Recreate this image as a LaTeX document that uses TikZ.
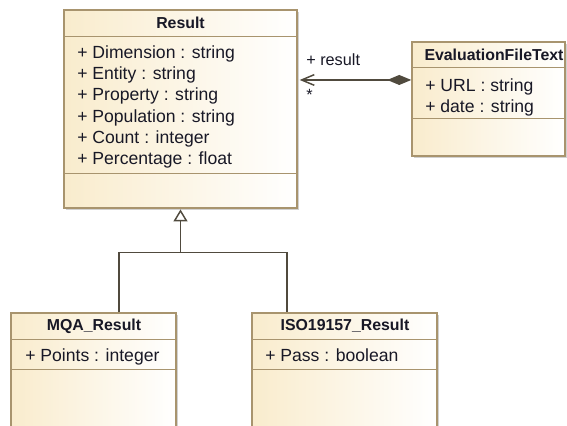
\documentclass[tikz,border=0pt]{standalone}
\usepackage{fontspec}
\setmainfont{Liberation Sans}
\usetikzlibrary{arrows.meta,fit,shadows}

\definecolor{umlfill}{RGB}{249,236,205}
\definecolor{umledge}{RGB}{168,148,110}
\definecolor{umlline}{RGB}{80,74,62}
\definecolor{umltext}{RGB}{24,24,38}

\tikzset{
  classbox/.style={rectangle, inner sep=0pt, draw=umledge, line width=1.1pt,
    left color=umlfill, right color=white,
    drop shadow={shadow xshift=1.5pt, shadow yshift=-1.5pt, fill=black, opacity=0.18}},
  sepline/.style={draw=umledge, line width=1.1pt},
  title/.style={font=\fontsize{11.9}{14}\selectfont\bfseries, text=umltext, inner sep=0pt, anchor=base},
  attr/.style={font=\fontsize{13.2}{16}\selectfont, text=umltext, inner sep=0pt, anchor=base west},
  rolelabel/.style={font=\fontsize{12.2}{14}\selectfont, text=umltext, inner sep=0pt, anchor=base west},
  conn/.style={draw=umlline, line width=1.1pt}
}

\begin{document}
\begin{tikzpicture}[x=0.75pt,y=-0.75pt]
  \useasboundingbox (0,0) rectangle (567,425);
  \fill[white] (0,0) rectangle (567,425);
  \clip (0,0) rectangle (567,425);

  % class boxes
  \node[classbox, fit={(64,10) (297,208)}] (Result) {};
  \node[classbox, fit={(412,42) (565,156)}] (EFT) {};
  \node[classbox, fit={(11,313) (176,440)}] (MQA) {};
  \node[classbox, fit={(252,313) (437,440)}] (ISO) {};

  % compartment separators
  \draw[sepline] ([shift={(0,27)}]Result.north west) -- ([shift={(0,27)}]Result.north east);
  \draw[sepline] ([shift={(0,164)}]Result.north west) -- ([shift={(0,164)}]Result.north east);
  \draw[sepline] ([shift={(0,26)}]EFT.north west) -- ([shift={(0,26)}]EFT.north east);
  \draw[sepline] ([shift={(0,77)}]EFT.north west) -- ([shift={(0,77)}]EFT.north east);
  \draw[sepline] ([shift={(0,27)}]MQA.north west) -- ([shift={(0,27)}]MQA.north east);
  \draw[sepline] ([shift={(0,57)}]MQA.north west) -- ([shift={(0,57)}]MQA.north east);
  \draw[sepline] ([shift={(0,27)}]ISO.north west) -- ([shift={(0,27)}]ISO.north east);
  \draw[sepline] ([shift={(0,57)}]ISO.north west) -- ([shift={(0,57)}]ISO.north east);

  % Result
  \node[title] (tResult) at (180.5,28.3) {Result};
  \node[attr] (r1) at (77,58.3) {+ Dimension : string};
  \node[attr] (r2) at (77,79.6) {+ Entity : string};
  \node[attr] (r3) at (77,100.9) {+ Property : string};
  \node[attr] (r4) at (77,122.2) {+ Population : string};
  \node[attr] (r5) at (77,143.5) {+ Count : integer};
  \node[attr] (r6) at (77,164.8) {+ Percentage : float};

  % EvaluationFileText
  \node[title] (tEFT) at (494,60) {EvaluationFileText};
  \node[attr] (e1) at (425,91) {+ URL : string};
  \node[attr] (e2) at (425,112.3) {+ date : string};

  % MQA_Result
  \node[title] (tMQA) at (94,330.7) {MQA\_Result};
  \node[attr] (m1) at (25,361.7) {+ Points : integer};

  % ISO19157_Result
  \node[title] (tISO) at (345,330.7) {ISO19157\_Result};
  \node[attr] (i1) at (265,361.7) {+ Pass : boolean};

  % composition: EvaluationFileText owns results
  \coordinate (aggE) at ([shift={(0,38.7)}]EFT.north west);
  \draw[conn, {Straight Barb[length=9.5pt, width=8pt]}-{Diamond[length=18pt, width=7.5pt, fill=umlline]}]
    ([xshift=1.5pt]aggE -| Result.east) -- (aggE);
  \node[rolelabel] (lres) at (306,65) {+ result};
  \node[rolelabel] (lmul) at (306,100) {*};

  % generalization of the two result kinds
  \path (Result.south) ++(0,44) coordinate (bus);
  \coordinate (gM) at ([shift={(25.5,0)}]MQA.north);
  \coordinate (gI) at ([shift={(-57.5,0)}]ISO.north);
  \draw[conn] (gM) |- (bus) -| (gI);
  \draw[conn, -{Triangle[open, fill=white, length=9pt, width=10.5pt]}] (bus) -- ([yshift=-0.5pt]Result.south);
\end{tikzpicture}
\end{document}
